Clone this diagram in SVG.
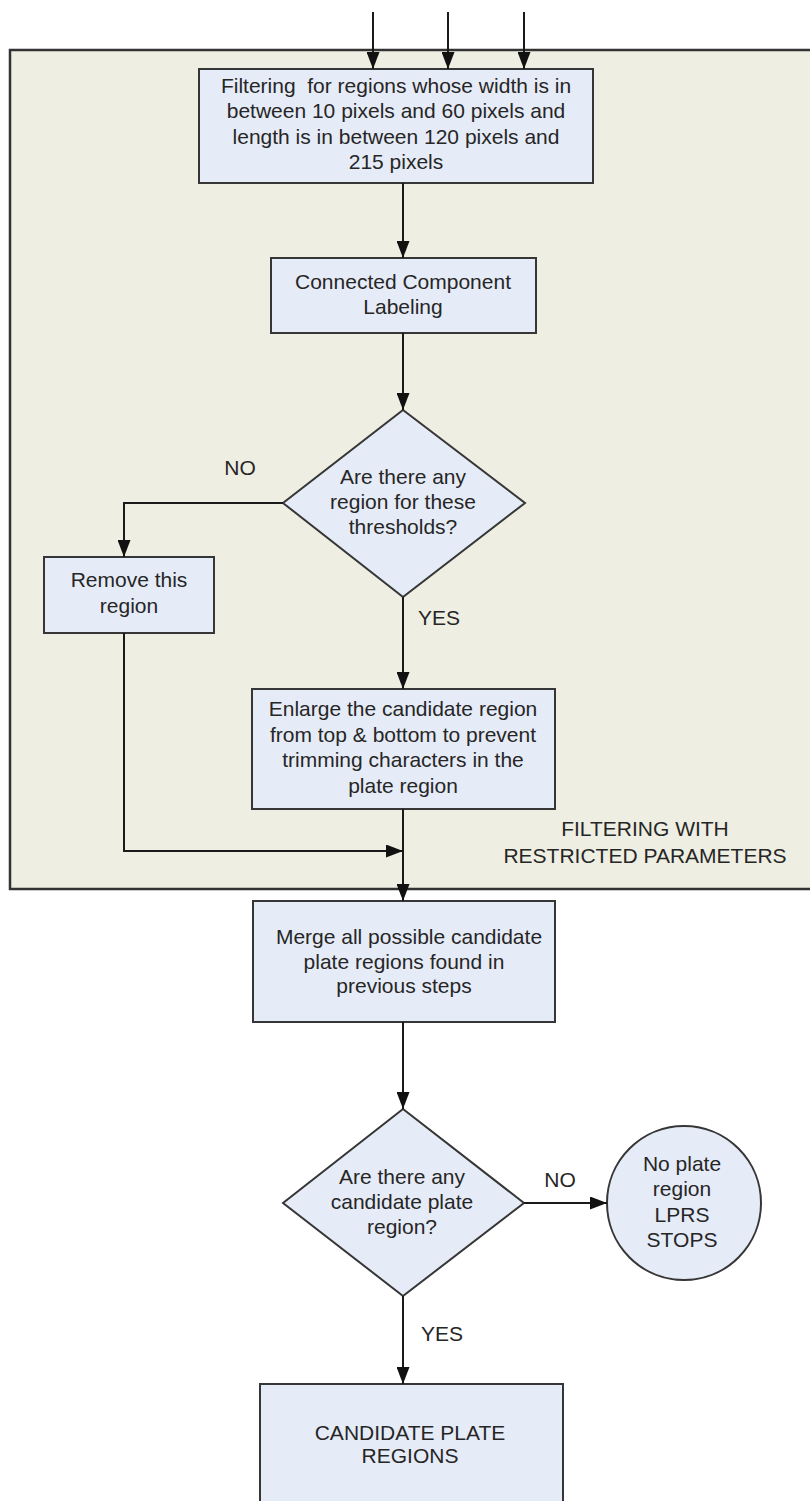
<svg xmlns="http://www.w3.org/2000/svg" width="810" height="1501" viewBox="0 0 810 1501">
  <style>
    .bg { fill: #ffffff; }
    .panel { fill: #eeeee3; stroke: #333333; stroke-width: 2.5; }
    .node { fill: #e6ecf7; stroke: #363636; stroke-width: 2; }
    .lbl { font-family: "Liberation Sans", Arial, sans-serif; font-size: 21px; fill: #262626; text-anchor: middle; }
    .tag { font-family: "Liberation Sans", Arial, sans-serif; font-size: 21px; fill: #262626; }
    .wire { fill: none; stroke: #1a1a1a; stroke-width: 2; }
  </style>
  <defs>
    <marker id="head" markerUnits="userSpaceOnUse" markerWidth="18" markerHeight="13" refX="17" refY="6.5" orient="auto">
      <path d="M0,0 L17,6.5 L0,13 Z" fill="#111111"/>
    </marker>
  </defs>

  <rect class="bg" x="0" y="0" width="810" height="1501"/>

  <!-- filtering stage container -->
  <g id="filter-panel">
    <rect class="panel" x="10" y="50" width="820" height="839"/>
    <text class="lbl" x="645" y="836">FILTERING WITH</text>
    <text class="lbl" x="645" y="863">RESTRICTED PARAMETERS</text>
  </g>

  <g id="size-filter">
    <rect class="node" x="199" y="69" width="394" height="114"/>
    <text class="lbl" x="396" y="93" xml:space="preserve">Filtering  for regions whose width is in</text>
    <text class="lbl" x="396" y="118">between 10 pixels and 60 pixels and</text>
    <text class="lbl" x="396" y="144">length is in between 120 pixels and</text>
    <text class="lbl" x="396" y="169">215 pixels</text>
  </g>

  <g id="ccl">
    <rect class="node" x="271" y="258" width="265" height="75"/>
    <text class="lbl" x="403" y="289">Connected Component</text>
    <text class="lbl" x="403" y="314">Labeling</text>
  </g>

  <g id="region-check">
    <polygon class="node" points="403,410 525,503 403,597 283,503"/>
    <text class="lbl" x="403" y="484">Are there any</text>
    <text class="lbl" x="403" y="509">region for these</text>
    <text class="lbl" x="403" y="534">thresholds?</text>
  </g>

  <g id="remove">
    <rect class="node" x="44" y="557" width="170" height="76"/>
    <text class="lbl" x="129" y="587">Remove this</text>
    <text class="lbl" x="129" y="613">region</text>
  </g>

  <g id="enlarge">
    <rect class="node" x="252" y="689" width="303" height="120"/>
    <text class="lbl" x="403" y="716">Enlarge the candidate region</text>
    <text class="lbl" x="403" y="742">from top &amp; bottom to prevent</text>
    <text class="lbl" x="403" y="767">trimming characters in the</text>
    <text class="lbl" x="403" y="793">plate region</text>
  </g>

  <g id="merge">
    <rect class="node" x="253" y="901" width="302" height="121"/>
    <text class="lbl" x="409" y="944">Merge all possible candidate</text>
    <text class="lbl" x="404" y="969">plate regions found in</text>
    <text class="lbl" x="404" y="993">previous steps</text>
  </g>

  <g id="candidate-check">
    <polygon class="node" points="403,1109 524,1203 403,1296 283,1203"/>
    <text class="lbl" x="402" y="1184">Are there any</text>
    <text class="lbl" x="402" y="1209">candidate plate</text>
    <text class="lbl" x="402" y="1234">region?</text>
  </g>

  <g id="stop">
    <circle class="node" cx="684" cy="1203" r="77"/>
    <text class="lbl" x="682" y="1171">No plate</text>
    <text class="lbl" x="682" y="1196">region</text>
    <text class="lbl" x="682" y="1222">LPRS</text>
    <text class="lbl" x="682" y="1247">STOPS</text>
  </g>

  <g id="result">
    <rect class="node" x="260" y="1384" width="303" height="130"/>
    <text class="lbl" x="410" y="1440">CANDIDATE PLATE</text>
    <text class="lbl" x="410" y="1463">REGIONS</text>
  </g>

  <!-- connectors -->
  <g id="connectors">
    <line class="wire" x1="373" y1="12" x2="373" y2="69" marker-end="url(#head)"/>
    <line class="wire" x1="448" y1="12" x2="448" y2="69" marker-end="url(#head)"/>
    <line class="wire" x1="524" y1="12" x2="524" y2="69" marker-end="url(#head)"/>
    <line class="wire" x1="403" y1="183" x2="403" y2="258" marker-end="url(#head)"/>
    <line class="wire" x1="403" y1="333" x2="403" y2="410" marker-end="url(#head)"/>
    <path class="wire" d="M283,503 H124 V557" marker-end="url(#head)"/>
    <line class="wire" x1="403" y1="597" x2="403" y2="689" marker-end="url(#head)"/>
    <line class="wire" x1="403" y1="809" x2="403" y2="901" marker-end="url(#head)"/>
    <path class="wire" d="M124,633 V851 H403" marker-end="url(#head)"/>
    <line class="wire" x1="403" y1="1022" x2="403" y2="1109" marker-end="url(#head)"/>
    <line class="wire" x1="524" y1="1203" x2="607" y2="1203" marker-end="url(#head)"/>
    <line class="wire" x1="403" y1="1296" x2="403" y2="1384" marker-end="url(#head)"/>
  </g>

  <!-- branch labels -->
  <g id="branch-labels">
    <text class="lbl" x="240" y="475">NO</text>
    <text class="tag" x="418" y="625">YES</text>
    <text class="lbl" x="560" y="1187">NO</text>
    <text class="tag" x="421" y="1341">YES</text>
  </g>
</svg>
